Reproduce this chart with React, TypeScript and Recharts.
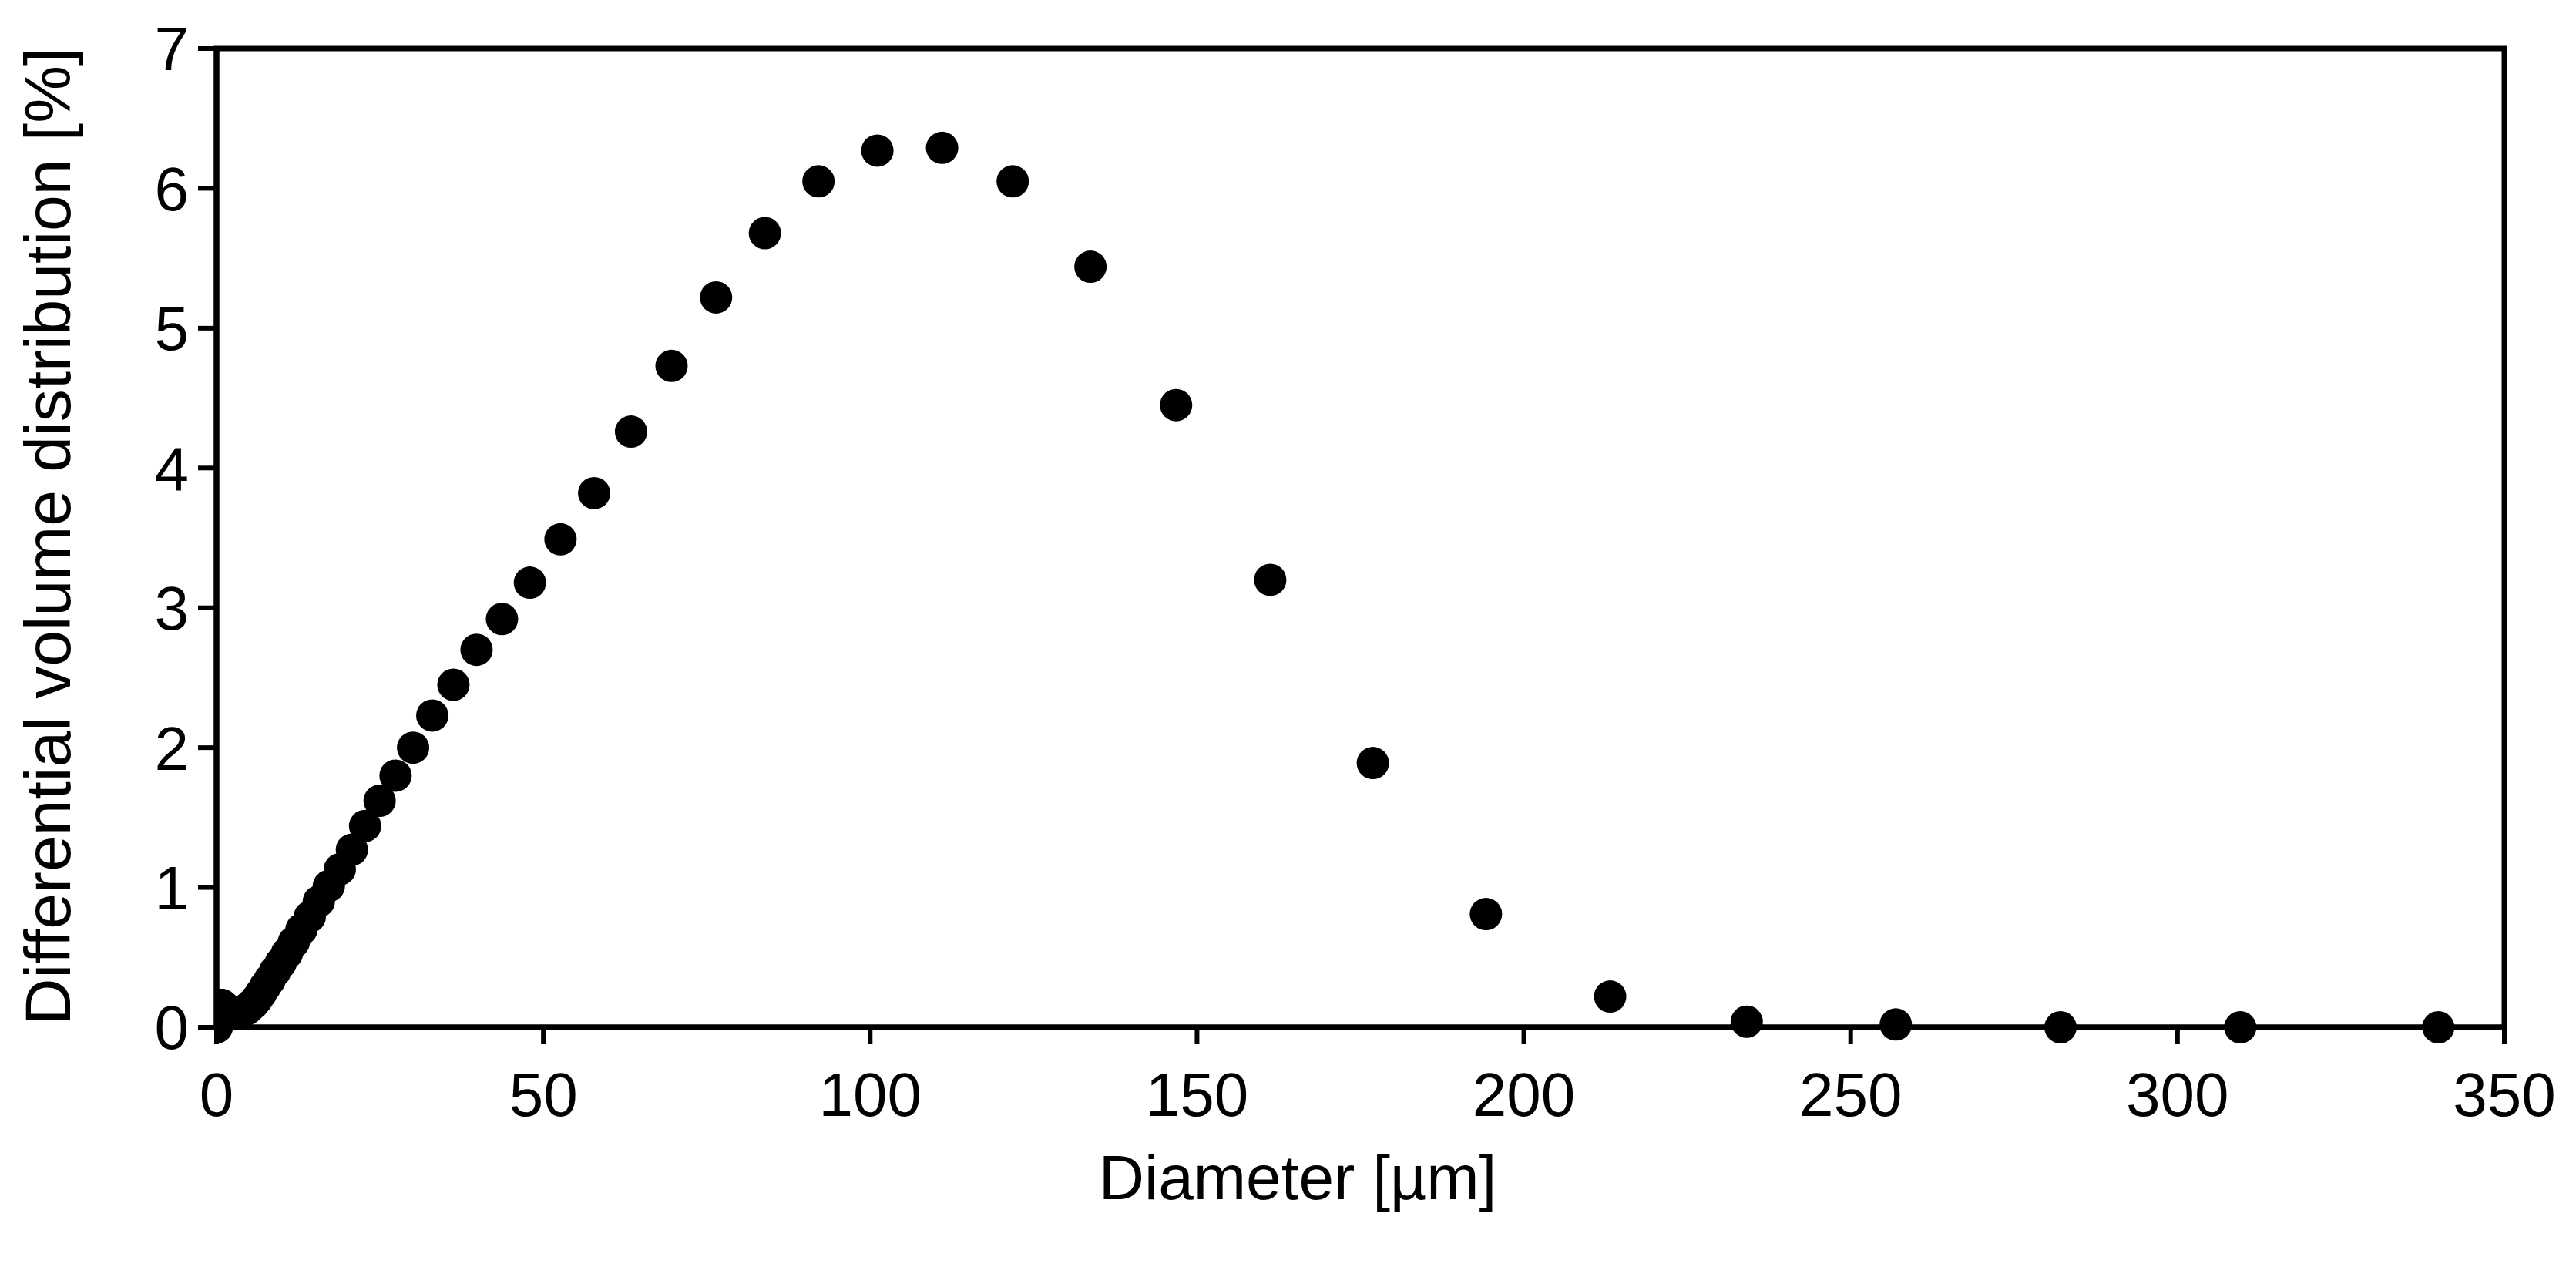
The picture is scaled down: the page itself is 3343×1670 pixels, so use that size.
import React from "react";
import { ScatterChart, Scatter, XAxis, YAxis, ReferenceArea } from "recharts";

// particle size bins [µm] and differential volume [%]
const diameters = [
  0.04, 0.044, 0.048, 0.053, 0.058, 0.064, 0.07, 0.077, 0.084, 0.093, 0.102, 0.112, 0.122, 0.134,
  0.148, 0.162, 0.178, 0.195, 0.214, 0.235, 0.258, 0.284, 0.311, 0.342, 0.375, 0.412, 0.452, 0.496,
  0.545, 0.598, 0.657, 0.721, 0.791, 0.869, 0.954, 1.047, 1.149, 1.261, 1.385, 1.52, 1.669, 1.832,
  2.011, 2.208, 2.423, 2.66, 2.92, 3.206, 3.519, 3.863, 4.241, 4.656, 5.111, 5.611, 6.159, 6.761,
  7.422, 8.148, 8.944, 9.819, 10.78, 11.83, 12.99, 14.26, 15.65, 17.18, 18.86, 20.71, 22.73, 24.95,
  27.39, 30.07, 33.01, 36.24, 39.78, 43.67, 47.94, 52.62, 57.77, 63.41, 69.61, 76.42, 83.89, 92.09,
  101.1, 111.0, 121.8, 133.7, 146.8, 161.2, 176.9, 194.2, 213.2, 234.1, 256.9, 282.1, 309.6, 339.9,
];

const volumes = [
  0.0, 0.01, 0.01, 0.02, 0.02, 0.03, 0.03, 0.04, 0.05, 0.05, 0.06, 0.07, 0.08, 0.08,
  0.09, 0.1, 0.1, 0.11, 0.12, 0.12, 0.13, 0.13, 0.14, 0.14, 0.15, 0.15, 0.15, 0.16,
  0.16, 0.16, 0.16, 0.16, 0.16, 0.15, 0.15, 0.15, 0.14, 0.14, 0.13, 0.13, 0.12, 0.12,
  0.11, 0.11, 0.1, 0.1, 0.1, 0.1, 0.1, 0.11, 0.12, 0.13, 0.15, 0.17, 0.2, 0.24,
  0.29, 0.34, 0.4, 0.46, 0.53, 0.61, 0.7, 0.79, 0.9, 1.01, 1.13, 1.27, 1.44, 1.62,
  1.8, 2.0, 2.23, 2.45, 2.7, 2.92, 3.18, 3.49, 3.82, 4.26, 4.73, 5.22, 5.68, 6.05,
  6.27, 6.29, 6.05, 5.44, 4.45, 3.2, 1.89, 0.81, 0.22, 0.04, 0.02, 0.0, 0.0, 0.0,
];

const xTicks = [0, 50, 100, 150, 200, 250, 300, 350];
const yTicks = [0, 1, 2, 3, 4, 5, 6, 7];

const FONT = "'Liberation Sans', Arial, sans-serif";

const data = diameters.map((d, i) => ({ d, v: volumes[i] }));

const Dot = (props: any) => <circle cx={props.cx} cy={props.cy} r={21} fill="#000" />;

export default function App() {
  return (
    <div style={{ position: "absolute", left: 0, top: 0, width: 3343, height: 1670, background: "#fff" }}>
      <ScatterChart
        width={3343}
        height={1670}
        margin={{ top: 63, right: 93, bottom: 137, left: 131 }}
        style={{ fontFamily: FONT }}
      >
        <ReferenceArea x1={0} x2={350} y1={0} y2={7} fill="none" stroke="#000" strokeWidth={7} fillOpacity={0} />
        <XAxis
          type="number"
          dataKey="d"
          domain={[0, 350]}
          ticks={xTicks}
          height={200}
          tickSize={22}
          tickMargin={36}
          axisLine={{ stroke: "#000", strokeWidth: 7 }}
          tickLine={{ stroke: "#000", strokeWidth: 6 }}
          tick={{ fontSize: 80, fill: "#000", fontFamily: FONT }}
          allowDataOverflow
        />
        <YAxis
          type="number"
          dataKey="v"
          domain={[0, 7]}
          ticks={yTicks}
          width={150}
          tickSize={24}
          tickMargin={12}
          axisLine={{ stroke: "#000", strokeWidth: 7 }}
          tickLine={{ stroke: "#000", strokeWidth: 6 }}
          tick={{ fontSize: 80, fill: "#000", fontFamily: FONT }}
        />
        <Scatter data={data} shape={Dot} isAnimationActive={false} />
      </ScatterChart>
      <svg
        width={3343}
        height={1670}
        style={{ position: "absolute", left: 0, top: 0, pointerEvents: "none" }}
      >
        <text x={1684} y={1556} textAnchor="middle" fontSize={82} fontFamily={FONT} fill="#000">
          Diameter [µm]
        </text>
        <text
          transform="translate(91, 696) rotate(-90)"
          textAnchor="middle"
          fontSize={84}
          fontFamily={FONT}
          fill="#000"
        >
          Differential volume distribution [%]
        </text>
      </svg>
    </div>
  );
}
